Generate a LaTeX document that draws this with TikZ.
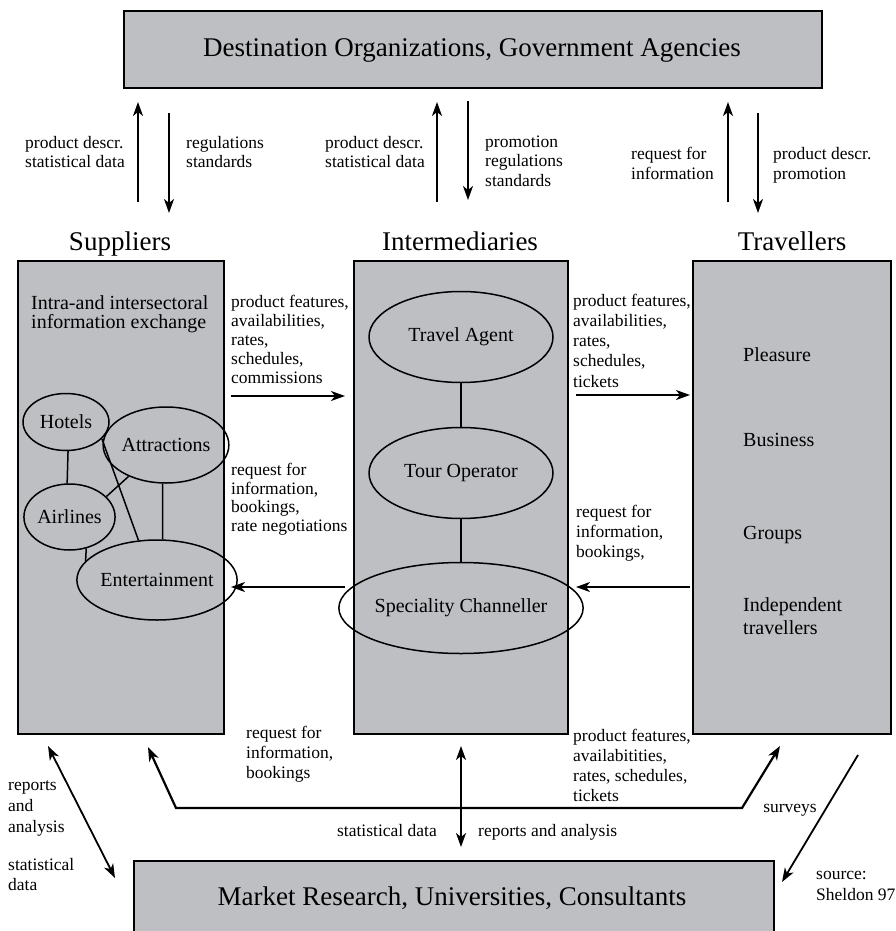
\documentclass[tikz,border=0pt]{standalone}
\usepackage{fontspec}
\setmainfont{Liberation Serif}
\usetikzlibrary{arrows.meta,shapes.geometric,shadows}
\definecolor{boxgray}{RGB}{190,191,195}
\begin{document}
\begin{tikzpicture}[x=1pt,y=-1pt,
  bigbox/.style={draw,line width=1.6pt,fill=boxgray,inner sep=0pt,anchor=north west,
    drop shadow={shadow xshift=1.2pt,shadow yshift=-1.2pt,fill=black,opacity=1}},
  oval/.style={draw,ellipse,line width=1.5pt,inner sep=0pt,font=\fontsize{20}{20}\selectfont},
  lbl/.style={inner sep=0pt,align=left,anchor=base west},
  lblf/.style={font=\fontsize{17.5}{#1}\selectfont},
  mid/.style={inner sep=0pt,align=left,anchor=base west,font=\fontsize{20}{23}\selectfont},
  head/.style={inner sep=0pt,anchor=base,font=\fontsize{27}{29}\selectfont},
  arr/.style={line width=1.8pt,-{Stealth[length=14pt,width=10pt,inset=4pt]}},
  darr/.style={line width=1.8pt,{Stealth[length=14pt,width=10pt,inset=4pt]}-{Stealth[length=14pt,width=10pt,inset=4pt]}},
  link/.style={line width=1.5pt}]
\useasboundingbox (0,0) rectangle (895,931);

% boxes
\node[bigbox,minimum width=698pt,minimum height=77pt] (top) at (123,10) {};
\node[head] (toptxt) at (472,57) {Destination Organizations, Government Agencies};
\node[bigbox,minimum width=206pt,minimum height=473pt] (sup) at (17,260) {};
\node[bigbox,minimum width=214pt,minimum height=473pt] (int) at (353,260) {};
\node[bigbox,minimum width=198pt,minimum height=473pt] (trav) at (692,260) {};
\node[bigbox,minimum width=640pt,minimum height=80pt] (mkt) at (133,860) {};
\node[head] (mkttxt) at (452,905) {Market Research, Universities, Consultants};

% headings
\node[head] (hsup) at (120,250) {Suppliers};
\node[head] (hint) at (460,250) {Intermediaries};
\node[head] (htrav) at (792,250) {Travellers};

% top arrows
\coordinate (a1s) at (138,202); \coordinate (a1e) at (138,102);
\coordinate (a2s) at (169,113); \coordinate (a2e) at (169,213);
\coordinate (b1s) at (437,202); \coordinate (b1e) at (437,102);
\coordinate (b2s) at (468,101); \coordinate (b2e) at (468,200);
\coordinate (c1s) at (728,202); \coordinate (c1e) at (728,102);
\coordinate (c2s) at (758,113); \coordinate (c2e) at (758,213);
\draw[arr] (a1s) -- (a1e);
\draw[arr] (a2s) -- (a2e);
\draw[arr] (b1s) -- (b1e);
\draw[arr] (b2s) -- (b2e);
\draw[arr] (c1s) -- (c1e);
\draw[arr] (c2s) -- (c2e);
\node[lbl,lblf=19] (l1) at (25,167) {product descr.\\statistical data};
\node[lbl,lblf=19] (l2) at (186,167) {regulations\\standards};
\node[lbl,lblf=19] (l3) at (325,167) {product descr.\\statistical data};
\node[lbl,lblf=19.5] (l4) at (485,186) {promotion\\regulations\\standards};
\node[lbl,lblf=20] (l5) at (631,179) {request for\\information};
\node[lbl,lblf=20] (l6) at (773,179) {product descr.\\promotion};

% suppliers content
\node[mid,font=\fontsize{20}{18.5}\selectfont] (intra) at (31,328) {Intra-and intersectoral\\information exchange};
\node[oval,minimum width=86pt,minimum height=57pt] (hot) at (66,422) {Hotels};
\node[oval,minimum width=100pt,minimum height=76pt] (att) at (166,445) {Attractions};
\node[oval,minimum width=91pt,minimum height=66pt] (air) at (69.5,517) {Airlines};
\node[oval,minimum width=118pt,minimum height=80pt] (ent) at (157,580) {Entertainment};
\draw[link] (hot.-86) -- (air.94);
\draw[link] (hot.-10) -- (att.172);
\draw[link] (hot.-25) -- (ent.115);
\draw[link] (att.220) -- (air.29);
\draw[link] (att.265) -- (ent.82);
\draw[link] (air.-62) -- (ent.165);

% intermediaries content
\node[oval,minimum width=184pt,minimum height=91pt] (ta) at (461,337) {Travel Agent};
\node[oval,minimum width=184pt,minimum height=91pt] (to) at (461,473) {Tour Operator};
\node[oval,minimum width=184pt,minimum height=91pt] (sc) at (461,608) {Speciality Channeller};
\draw[link] (ta) -- (to);
\draw[link] (to) -- (sc);

% travellers content
\node[mid] (t1) at (743,361) {Pleasure};
\node[mid] (t2) at (743,446) {Business};
\node[mid] (t3) at (743,539) {Groups};
\node[mid] (t4) at (743,634) {Independent\\travellers};

% horizontal arrows
\coordinate (h1s) at (231,396); \coordinate (h1e) at (345,396);
\coordinate (h2s) at (345,587); \coordinate (h2e) at (231,587);
\coordinate (h3s) at (576,395); \coordinate (h3e) at (690,395);
\coordinate (h4s) at (690,587); \coordinate (h4e) at (576,587);
\draw[arr] (h1s) -- (h1e);
\draw[arr] (h2s) -- (h2e);
\draw[arr] (h3s) -- (h3e);
\draw[arr] (h4s) -- (h4e);
\node[lbl,lblf=19] (m1) at (231,383) {product features,\\availabilities,\\rates,\\schedules,\\commissions};
\node[lbl,lblf=18.5] (m2) at (231,531) {request for\\information,\\bookings,\\rate negotiations};
\node[lbl,lblf=20.2] (m3) at (573,387) {product features,\\availabilities,\\rates,\\schedules,\\tickets};
\node[lbl,lblf=20] (m4) at (576,557) {request for\\information,\\bookings,};

% bottom connectors
\coordinate (d1s) at (48,746); \coordinate (d1e) at (115,878);
\draw[darr] (d1s) -- (d1e);
\node[lbl,lblf=21] (r1) at (8,832) {reports\\and\\analysis};
\node[lbl,lblf=20] (r2) at (8,890) {statistical\\data};

\coordinate (p1) at (148,747); \coordinate (p2) at (176,808);
\coordinate (p3) at (742,808); \coordinate (p4) at (780,746);
\draw[darr,line width=2.2pt] (p1) -- (p2) -- (p3) -- (p4);
\node[lbl,lblf=20] (r3) at (246,778) {request for\\information,\\bookings};
\node[lbl,lblf=20] (r4) at (573,801) {product features,\\availabitities,\\rates, schedules,\\tickets};

\coordinate (v1) at (461,746); \coordinate (v2) at (461,847);
\draw[darr] (v1) -- (v2);
\node[lbl,lblf=20,anchor=base east] (r5) at (437,836) {statistical data};
\node[lbl,lblf=20] (r6) at (478,836) {reports and analysis};

\coordinate (s1) at (858,755); \coordinate (s2) at (782,882);
\draw[arr] (s1) -- (s2);
\node[lbl,lblf=20,anchor=base] (r7) at (790,812) {surveys};
\node[lbl,lblf=20] (src1) at (816,879) {source:};
\node[lbl,lblf=20] (src2) at (816,900) {Sheldon 97};
\end{tikzpicture}
\end{document}
